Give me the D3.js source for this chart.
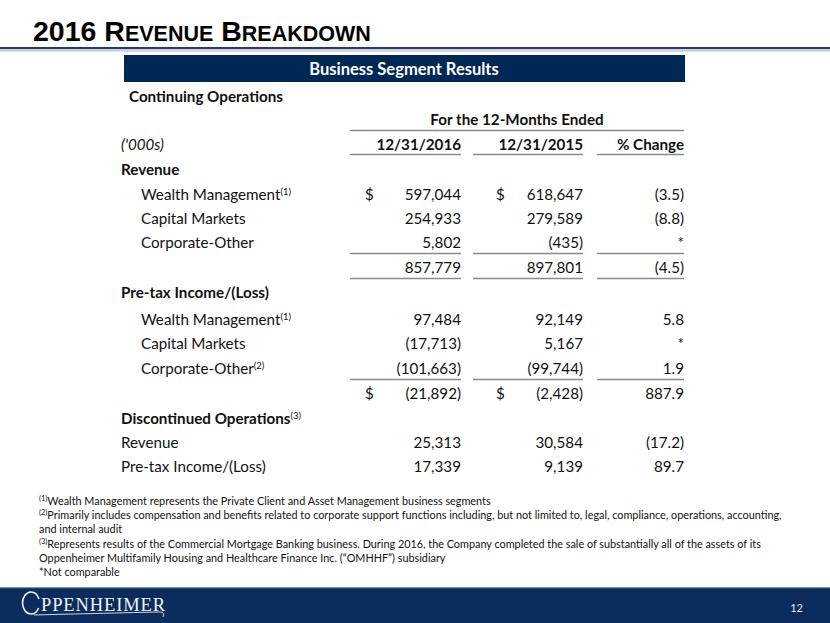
<!DOCTYPE html>
<html><head><meta charset="utf-8">
<script src="https://cdn.jsdelivr.net/npm/d3@7"></script>
<style>
html,body{margin:0;padding:0;background:#fff;}
svg{display:block;}
</style></head>
<body>
<script>
// ---------------- DATA ----------------
const title = "2016 Revenue Breakdown";
const tableTitle = "Business Segment Results";
const periodHeader = "For the 12-Months Ended";
const columns = ["12/31/2016", "12/31/2015", "% Change"];
const unitsLabel = "('000s)";

const segments = ["Wealth Management", "Capital Markets", "Corporate-Other"];
const revenueNotes = ["1", "", ""];
const revenue2016 = [597044, 254933, 5802];
const revenue2015 = [618647, 279589, -435];
const revenueChange = [-3.5, -8.8, null];
const revenueTotal = [857779, 897801, -4.5];

const pretaxNotes = ["1", "", "2"];
const pretax2016 = [97484, -17713, -101663];
const pretax2015 = [92149, 5167, -99744];
const pretaxChange = [5.8, null, 1.9];
const pretaxTotal = [-21892, -2428, 887.9];

const discLabels = ["Revenue", "Pre-tax Income/(Loss)"];
const disc2016 = [25313, 17339];
const disc2015 = [30584, 9139];
const discChange = [-17.2, 89.7];

const footnotes = [
  ["1", "Wealth Management represents the Private Client and Asset Management business segments"],
  ["2", "Primarily includes compensation and benefits related to corporate support functions including, but not limited to, legal, compliance, operations, accounting,"],
  ["", "and internal audit"],
  ["3", "Represents results of the Commercial Mortgage Banking business. During 2016, the Company completed the sale of substantially all of the assets of its"],
  ["", "Oppenheimer Multifamily Housing and Healthcare Finance Inc. (\u201COMHHF\u201D) subsidiary"],
  ["", "*Not comparable"]
];
const pageNumber = "12";

// ---------------- RENDER ----------------
const W = 830, H = 623;
const NAVY = "#002855";
const FONT = "Lato, 'Open Sans', sans-serif";
const svg = d3.select("body").append("svg").attr("width", W).attr("height", H);

// title with small caps
const t = svg.append("text").attr("x", 33).attr("y", 41)
  .attr("font-family", "'Liberation Sans', Arial, sans-serif").attr("font-weight", "bold").attr("fill", "#000");
title.split(" ").forEach((word, i) => {
  const first = word[0], rest = word.slice(1).toUpperCase();
  const isNum = /^\d+$/.test(word);
  t.append("tspan").attr("font-size", 28.5).text((i ? " " : "") + (isNum ? word : first.toUpperCase()));
  if (!isNum) t.append("tspan").attr("font-size", 21.5).text(rest);
});
svg.append("rect").attr("x", 0).attr("y", 47).attr("width", W).attr("height", 2.2).attr("fill", "#1f3b78");
svg.append("rect").attr("x", 0).attr("y", 49.2).attr("width", W).attr("height", 2.5).attr("fill", "#d0d0d0");

// header bar
svg.append("rect").attr("x", 124).attr("y", 55).attr("width", 561).attr("height", 27).attr("fill", NAVY);
svg.append("text").attr("x", 404).attr("y", 75).attr("text-anchor", "middle")
  .attr("font-family", FONT).attr("font-weight", "bold").attr("font-size", 16.5).attr("fill", "#fff").text(tableTitle);

// column positions via scales
const colRight = d3.scaleOrdinal().domain(columns).range([461, 583, 684]);
const colLeft = d3.scaleOrdinal().domain(columns).range([350, 473, 597]);
const dollarX = d3.scaleOrdinal().domain(columns).range([365, 496, null]);

// rows
const rows = [];
rows.push({type: "heading", label: "Continuing Operations", x: 129});
rows.push({type: "period"});
rows.push({type: "colhead"});
rows.push({type: "heading", label: "Revenue"});
segments.forEach((s, i) => rows.push({type: "item", label: s, note: revenueNotes[i], vals: [revenue2016[i], revenue2015[i], revenueChange[i]], dollar: i === 0, rule: i === segments.length - 1}));
rows.push({type: "item", label: "", vals: revenueTotal, rule: true});
rows.push({type: "heading", label: "Pre-tax Income/(Loss)"});
segments.forEach((s, i) => rows.push({type: "item", label: s, note: pretaxNotes[i], vals: [pretax2016[i], pretax2015[i], pretaxChange[i]], rule: i === segments.length - 1}));
rows.push({type: "item", label: "", vals: pretaxTotal, dollar: true});
rows.push({type: "heading", label: "Discontinued Operations", note: "3"});
discLabels.forEach((s, i) => rows.push({type: "item", label: s, indent: false, vals: [disc2016[i], disc2015[i], discChange[i]]}));

const rowCenters = [97, 120, 145, 170, 195, 219, 243, 268, 293, 320, 344, 369, 394, 419, 443, 467];
const y = d3.scaleOrdinal().domain(d3.range(rows.length)).range(rowCenters);

const fmtInt = d3.format(",");
const fmtPct = d3.format(".1f");
function fmt(v, isPct) {
  if (v === null) return "*";
  const s = isPct ? fmtPct(Math.abs(v)) : fmtInt(Math.abs(v));
  return v < 0 ? "(" + s + ")" : s;
}
const RULE = "#8a8a8a";
const g = svg.append("g").attr("font-family", FONT).attr("fill", "#111");

function addLabel(x, yy, label, note, bold, size) {
  const tx = g.append("text").attr("x", x).attr("y", yy).attr("font-size", size || 15.2)
    .attr("font-weight", bold ? "bold" : "normal").text(label);
  if (note) tx.append("tspan").attr("font-size", 9.5).attr("dy", -5).attr("font-weight", "normal").text("(" + note + ")");
}

rows.forEach((r, i) => {
  const cy = y(i), base = cy + 5;
  if (r.type === "heading") {
    addLabel(r.x || 121, base, r.label, r.note, true);
  } else if (r.type === "period") {
    g.append("text").attr("x", (350 + 684) / 2).attr("y", base).attr("text-anchor", "middle")
      .attr("font-size", 15.2).attr("font-weight", "bold").text(periodHeader);
    g.append("line").attr("x1", 350).attr("x2", 684).attr("y1", 130.5).attr("y2", 130.5).attr("stroke", RULE).attr("stroke-width", 1.3);
  } else if (r.type === "colhead") {
    g.append("text").attr("x", 121).attr("y", base).attr("font-size", 15.2).attr("font-style", "italic").text(unitsLabel);
    columns.forEach(c => {
      g.append("text").attr("x", colRight(c)).attr("y", base).attr("text-anchor", "end")
        .attr("font-size", 15.2).attr("font-weight", "bold").text(c);
      g.append("line").attr("x1", colLeft(c)).attr("x2", colRight(c)).attr("y1", 154.5).attr("y2", 154.5).attr("stroke", RULE).attr("stroke-width", 1.3);
    });
  } else {
    if (r.label) addLabel(r.indent === false ? 121 : 141, base, r.label, r.note, false);
    columns.forEach((c, j) => {
      g.append("text").attr("x", colRight(c)).attr("y", base).attr("text-anchor", "end")
        .attr("font-size", 15.2).text(fmt(r.vals[j], j === 2));
      if (r.dollar && dollarX(c) !== null) {
        g.append("text").attr("x", dollarX(c)).attr("y", base).attr("font-size", 15.2).text("$");
      }
      if (r.rule) {
        g.append("line").attr("x1", colLeft(c)).attr("x2", colRight(c)).attr("y1", cy + 10.5).attr("y2", cy + 10.5)
          .attr("stroke", RULE).attr("stroke-width", 1.3);
      }
    });
  }
});

// footnotes
const fy = d3.scaleLinear().domain([0, footnotes.length - 1]).range([505, 576]);
footnotes.forEach((f, i) => {
  const tx = g.append("text").attr("x", 39).attr("y", fy(i)).attr("font-size", 10.85).attr("fill", "#111");
  if (f[0]) tx.append("tspan").attr("font-size", 7.5).attr("dy", -4).text("(" + f[0] + ")");
  tx.append("tspan").attr("dy", f[0] ? 4 : 0).text(f[1]);
});

// footer band
svg.append("rect").attr("x", 0).attr("y", 588).attr("width", W).attr("height", H - 588).attr("fill", "#0b2d5e");
svg.append("rect").attr("x", 0).attr("y", 587).attr("width", W).attr("height", 1.2).attr("fill", "#7f93b5");
const serif = "'Liberation Serif', 'DejaVu Serif', serif";
svg.append("ellipse").attr("cx", 31).attr("cy", 603).attr("rx", 8.5).attr("ry", 11)
  .attr("fill", "none").attr("stroke", "#f2f2f2").attr("stroke-width", 1.6)
  .attr("stroke-dasharray", "52 10").attr("stroke-dashoffset", -5);
svg.append("text").attr("x", 41).attr("y", 611).attr("fill", "#f2f2f2")
  .attr("font-family", serif).attr("font-size", 18.5).attr("textLength", 124).text("PPENHEIMER");
svg.append("path").attr("d", "M34,615 Q110,613 160,612 Q165,612 163,617").attr("fill", "none").attr("stroke", "#e6e6e6").attr("stroke-width", 0.9);
svg.append("text").attr("x", 803).attr("y", 612).attr("text-anchor", "end").attr("font-family", FONT)
  .attr("font-size", 11).attr("fill", "#e8e8e8").text(pageNumber);
</script>
</body></html>
